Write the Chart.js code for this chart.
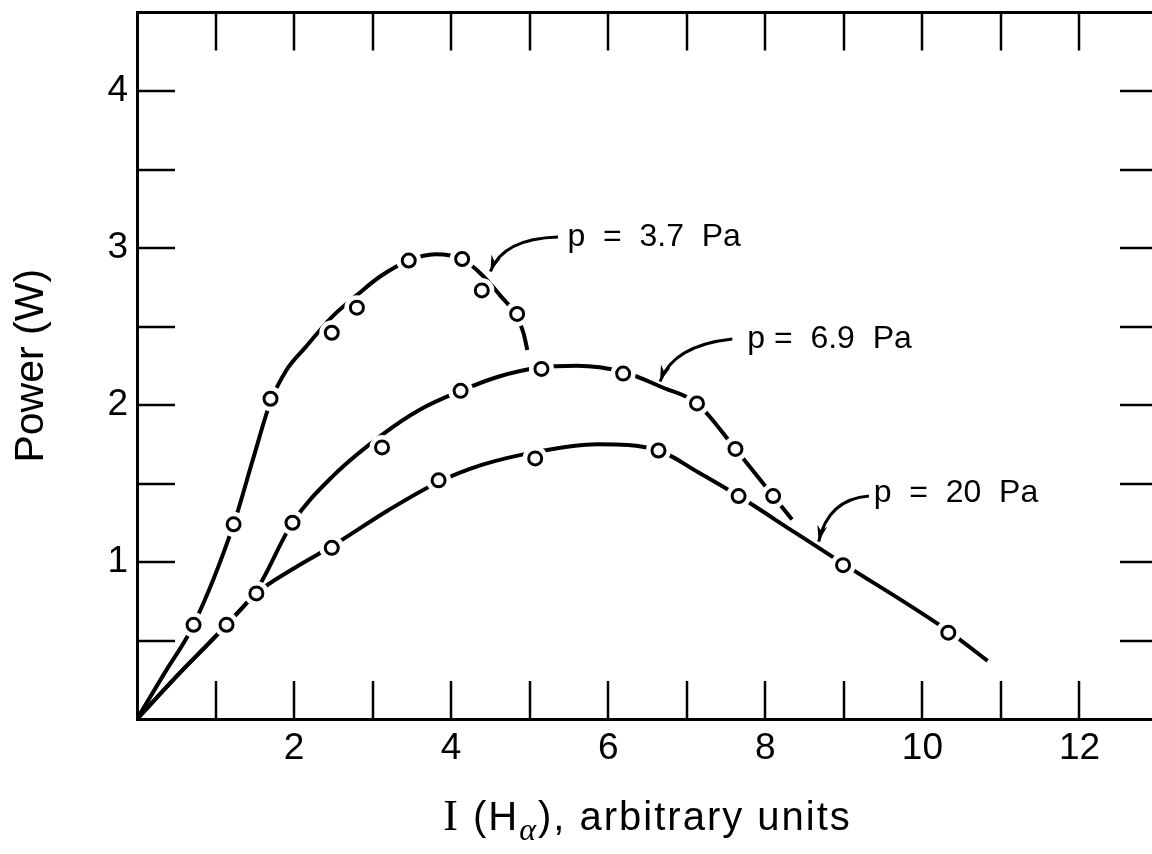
<!DOCTYPE html>
<html>
<head>
<meta charset="utf-8">
<script src="https://cdn.jsdelivr.net/npm/chart.js@4"></script>
<style>
  html, body { margin: 0; padding: 0; background: #fff; overflow: hidden; }
  canvas { display: block; }
</style>
</head>
<body>
<canvas id="power_chart" width="1180" height="854"></canvas>
<script>
// measured points (open circles), [I(Halpha), power W]
const pts37 = [[0.72,0.60],[1.23,1.24],[1.70,2.04],[2.48,2.46],[2.80,2.62],[3.46,2.92],[4.14,2.93],[4.39,2.73],[4.84,2.58]];
const pts69 = [[1.52,0.80],[1.98,1.25],[3.12,1.73],[4.12,2.09],[5.15,2.23],[6.19,2.20],[7.13,2.01],[7.62,1.72],[8.10,1.42]];
const pts20 = [[1.14,0.60],[2.48,1.09],[3.84,1.52],[5.07,1.66],[6.64,1.71],[7.66,1.42],[8.99,0.98],[10.33,0.55]];

// hand drawn curves
const fit37 = [[0,0],[0.36,0.30],[0.72,0.60],[1.23,1.24],[1.48,1.66],[1.70,2.02],[1.90,2.22],[2.15,2.37],[2.48,2.56],[2.80,2.70],[3.10,2.82],[3.46,2.92],[3.80,2.96],[4.14,2.93],[4.39,2.83],[4.62,2.70],[4.84,2.56],[4.92,2.46],[4.97,2.35]];
const fit69 = [[0,0],[0.5,0.27],[1.14,0.60],[1.52,0.82],[1.98,1.25],[2.5,1.55],[3.12,1.81],[3.6,1.97],[4.12,2.09],[4.6,2.18],[5.15,2.24],[5.6,2.25],[6.19,2.21],[6.7,2.11],[7.13,2.01],[7.62,1.72],[8.10,1.42],[8.34,1.27]];
const fit20 = [[0,0],[0.5,0.27],[1.14,0.60],[1.52,0.80],[2.0,0.96],[2.48,1.10],[3.2,1.33],[3.84,1.51],[4.4,1.62],[5.07,1.70],[5.86,1.75],[6.64,1.71],[7.15,1.57],[7.66,1.42],[8.34,1.20],[8.99,0.99],[10.33,0.56],[10.83,0.37]];

const curveLabels = ['p  =  3.7  Pa', 'p =  6.9  Pa', 'p  =  20  Pa'];

const xTicks = [0, 13];      // x range
const yTicks = [0, 4.5];     // y range

const SANS = '"Liberation Sans", Arial, Helvetica, sans-serif';
const SERIF = '"Liberation Serif", "Times New Roman", serif';

function xy(list){
  return list.map(p => ({x: p[0], y: p[1]}));
}

// label text + arrow, placed in data units
const notes = [
  {text: curveLabels[0], at: [5.48, 3.01], from: [5.36, 3.07], ctrl: [4.66, 3.06], to: [4.50, 2.85]},
  {text: curveLabels[1], at: [7.77, 2.36], from: [7.58, 2.42], ctrl: [6.83, 2.38], to: [6.66, 2.15]},
  {text: curveLabels[2], at: [9.38, 1.38], from: [9.32, 1.42], ctrl: [8.80, 1.40], to: [8.68, 1.13]}
];

// inward ticks on all four sides + top/right frame
const frameTicks = {
  id: 'frameTicks',
  beforeDatasetsDraw(chart){
    const {ctx, chartArea: a, scales: {x, y}} = chart;
    const len = 38;
    ctx.save();
    ctx.strokeStyle = '#000';
    ctx.lineWidth = 2.5;
    ctx.beginPath();
    x.ticks.forEach(t => {
      if (t.value <= x.min || t.value >= x.max) return;
      let px = Math.round(x.getPixelForValue(t.value));
      ctx.moveTo(px, a.bottom); ctx.lineTo(px, a.bottom - len);
      ctx.moveTo(px, a.top); ctx.lineTo(px, a.top + len);
    });
    y.ticks.forEach(t => {
      if (t.value <= y.min || t.value >= y.max) return;
      let py = Math.round(y.getPixelForValue(t.value));
      ctx.moveTo(a.left, py); ctx.lineTo(a.left + len, py);
      ctx.moveTo(a.right, py); ctx.lineTo(a.right - len, py);
    });
    ctx.stroke();
    ctx.lineWidth = 3;
    ctx.beginPath();
    ctx.moveTo(a.left, a.top); ctx.lineTo(a.right, a.top); ctx.lineTo(a.right, a.bottom);
    ctx.stroke();
    ctx.restore();
  }
};

const curveNotes = {
  id: 'curveNotes',
  afterDraw(chart){
    const {ctx, scales: {x, y}} = chart;
    const P = p => [x.getPixelForValue(p[0]), y.getPixelForValue(p[1])];
    ctx.save();
    ctx.strokeStyle = '#000';
    ctx.fillStyle = '#000';
    ctx.lineWidth = 3;
    ctx.font = '32px ' + SANS;
    ctx.textBaseline = 'alphabetic';
    notes.forEach(n => {
      let [tx, ty] = P(n.at);
      ctx.fillText(n.text, tx, ty);
      let f = P(n.from), c = P(n.ctrl), e = P(n.to);
      ctx.beginPath();
      ctx.moveTo(f[0], f[1]);
      ctx.quadraticCurveTo(c[0], c[1], e[0], e[1]);
      ctx.stroke();
      let ang = Math.atan2(e[1] - c[1], e[0] - c[0]);
      ctx.beginPath();
      ctx.moveTo(e[0], e[1]);
      ctx.lineTo(e[0] - 17 * Math.cos(ang - 0.3), e[1] - 17 * Math.sin(ang - 0.3));
      ctx.lineTo(e[0] - 11 * Math.cos(ang), e[1] - 11 * Math.sin(ang));
      ctx.lineTo(e[0] - 17 * Math.cos(ang + 0.3), e[1] - 17 * Math.sin(ang + 0.3));
      ctx.closePath();
      ctx.fill();
    });
    ctx.restore();
  }
};

// x title with serif I and subscript alpha
const xTitle = {
  id: 'xTitle',
  afterDraw(chart){
    const {ctx, chartArea: a} = chart;
    const parts = [
      {t: 'I', font: '44px ' + SERIF, dy: 0},
      {t: ' (H', font: '40px ' + SANS, dy: 0},
      {t: '\u03b1', font: 'italic 32px ' + SERIF, dy: 10},
      {t: '), arbitrary units', font: '40px ' + SANS, dy: 0}
    ];
    ctx.save();
    ctx.fillStyle = '#000';
    ctx.textBaseline = 'alphabetic';
    if ('letterSpacing' in ctx) ctx.letterSpacing = '2px';
    let total = 0;
    parts.forEach(p => { ctx.font = p.font; p.w = ctx.measureText(p.t).width; total += p.w; });
    let cx = (a.left + a.right) / 2 - total / 2;
    let base = a.bottom + 111;
    parts.forEach(p => {
      ctx.font = p.font;
      ctx.fillText(p.t, cx, base + p.dy);
      cx += p.w;
    });
    ctx.restore();
  }
};

function curveSet(points){
  return {
    type: 'line', data: xy(points), showLine: true,
    borderColor: '#000', borderWidth: 4, pointRadius: 0,
    cubicInterpolationMode: 'monotone', fill: false, order: 3
  };
}
function haloSet(points){
  return {
    type: 'scatter', data: xy(points), showLine: false,
    pointRadius: 12.5, pointBorderWidth: 0, pointBackgroundColor: '#fff',
    pointBorderColor: '#fff', order: 2
  };
}
function markSet(points){
  return {
    type: 'scatter', data: xy(points), showLine: false,
    pointRadius: 6.5, pointBorderWidth: 3, pointBackgroundColor: '#fff',
    pointBorderColor: '#000', order: 1
  };
}

Chart.defaults.font.family = SANS;
Chart.defaults.color = '#000';

let ctx = document.getElementById('power_chart').getContext('2d');
let power_chart = new Chart(ctx, {
  type: 'scatter',
  data: {
    datasets: [
      curveSet(fit37), curveSet(fit69), curveSet(fit20),
      haloSet(pts37), haloSet(pts69), haloSet(pts20),
      markSet(pts37), markSet(pts69), markSet(pts20)
    ]
  },
  options: {
    responsive: false,
    animation: false,
    layout: { padding: { top: 11, right: 22, left: 0, bottom: 0 } },
    plugins: {
      legend: { display: false },
      tooltip: { enabled: false },
      title: { display: false }
    },
    scales: {
      x: {
        type: 'linear', min: xTicks[0], max: xTicks[1],
        grid: { display: false, drawTicks: false },
        border: { display: true, color: '#000', width: 3 },
        ticks: {
          stepSize: 1, autoSkip: false, maxRotation: 0, padding: 8,
          font: { size: 37 }, color: '#000',
          callback: v => (v > 0 && v % 2 === 0) ? v : ''
        },
        afterFit(s){ s.height = 135; s.paddingLeft = 0; s.paddingRight = 0; }
      },
      y: {
        type: 'linear', min: yTicks[0], max: yTicks[1],
        grid: { display: false, drawTicks: false },
        border: { display: true, color: '#000', width: 3 },
        ticks: {
          stepSize: 0.5, autoSkip: false, padding: 9,
          font: { size: 37 }, color: '#000',
          callback: v => (v > 0 && Number.isInteger(v)) ? v : ''
        },
        title: { display: true, text: 'Power (W)', font: { size: 41 }, color: '#000', padding: { top: 7, bottom: 0 } },
        afterFit(s){ s.width = 137; s.paddingTop = 0; s.paddingBottom = 0; }
      }
    }
  },
  plugins: [frameTicks, curveNotes, xTitle]
});
</script>
</body>
</html>
